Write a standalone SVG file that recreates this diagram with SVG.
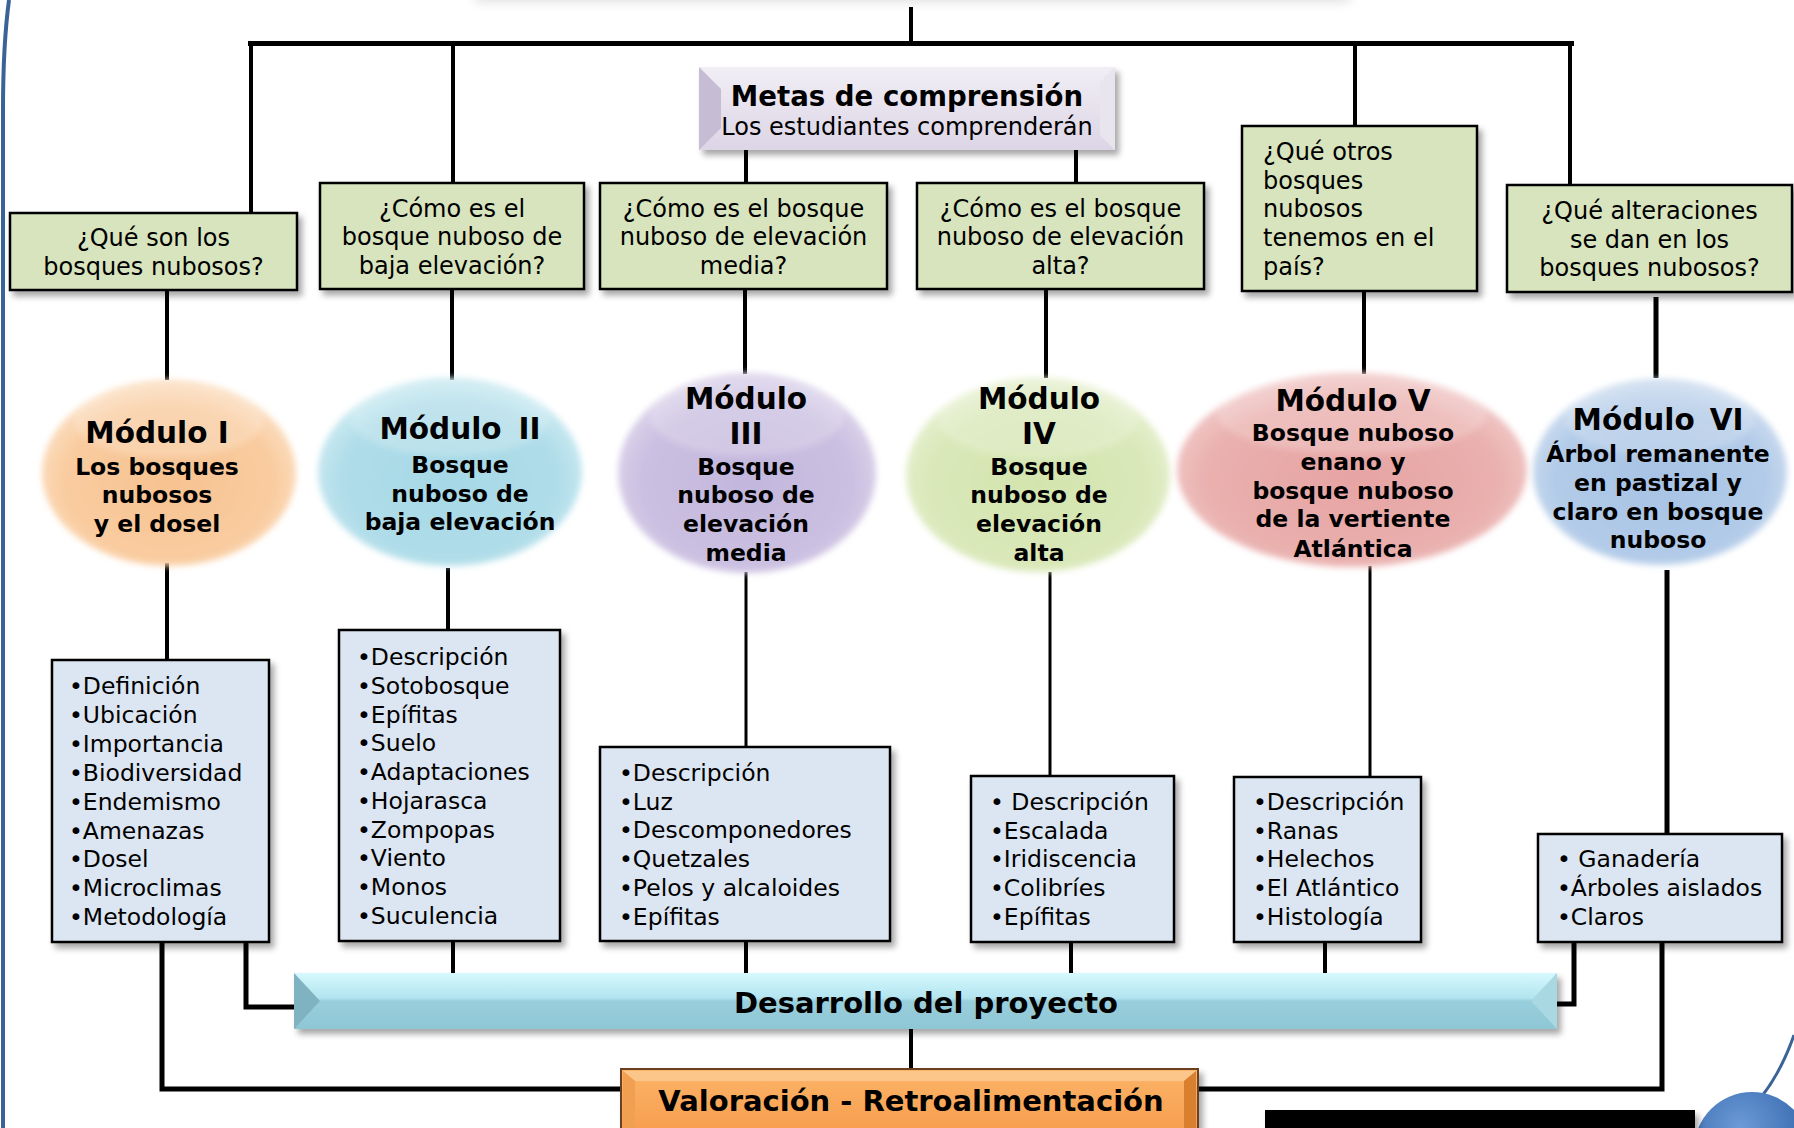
<svg xmlns="http://www.w3.org/2000/svg" width="1794" height="1128" viewBox="0 0 1794 1128">
<defs>
<style>
.t{font-family:"DejaVu Sans",Verdana,sans-serif;font-size:24px;fill:#000}
.c{text-anchor:middle}
.mt{font-weight:bold;font-size:29.5px}
.mb{font-weight:bold;font-size:23.5px}
.li{font-size:23.5px}
.bb{font-weight:bold;font-size:29px}
.mh{font-weight:bold;font-size:27.6px}
.q{fill:#d7e4bd;stroke:#000;stroke-width:2.5}
.l{fill:#dce6f2;stroke:#000;stroke-width:2.5}
.k{stroke:#000;fill:none;stroke-width:4;stroke-linecap:butt}
.k3{stroke-width:3}
.k5{stroke-width:5}
.hl{fill:#fff;opacity:0.2}
</style>
<filter id="sh" x="-10%" y="-10%" width="130%" height="130%">
<feDropShadow dx="4" dy="5" stdDeviation="3" flood-color="#000" flood-opacity="0.35"/>
</filter>
<filter id="soft" x="-10%" y="-10%" width="120%" height="120%">
<feGaussianBlur stdDeviation="3"/>
</filter>
<filter id="blur8" x="-20%" y="-200%" width="140%" height="500%">
<feGaussianBlur stdDeviation="6"/>
</filter>
<radialGradient id="g1" cx="50%" cy="55%" r="55%"><stop offset="0" stop-color="#f7c290"/><stop offset="0.75" stop-color="#f9cca0"/><stop offset="1" stop-color="#fbdfc2"/></radialGradient>
<radialGradient id="g2" cx="50%" cy="55%" r="55%"><stop offset="0" stop-color="#a6d8e6"/><stop offset="0.75" stop-color="#b0dde9"/><stop offset="1" stop-color="#cdebf2"/></radialGradient>
<radialGradient id="g3" cx="50%" cy="55%" r="55%"><stop offset="0" stop-color="#c3b6dd"/><stop offset="0.75" stop-color="#cbc0e1"/><stop offset="1" stop-color="#ddd5eb"/></radialGradient>
<radialGradient id="g4" cx="50%" cy="55%" r="55%"><stop offset="0" stop-color="#d3e4ae"/><stop offset="0.75" stop-color="#d9e8b9"/><stop offset="1" stop-color="#e7f0d0"/></radialGradient>
<radialGradient id="g5" cx="50%" cy="55%" r="55%"><stop offset="0" stop-color="#e6a4a3"/><stop offset="0.75" stop-color="#e9b0ae"/><stop offset="1" stop-color="#f1c9c8"/></radialGradient>
<radialGradient id="g6" cx="50%" cy="55%" r="55%"><stop offset="0" stop-color="#a7c2e4"/><stop offset="0.75" stop-color="#b2cbe8"/><stop offset="1" stop-color="#cddcef"/></radialGradient>
<linearGradient id="gm" x1="0" y1="0" x2="0" y2="1"><stop offset="0" stop-color="#f1eef5"/><stop offset="1" stop-color="#dcd5e6"/></linearGradient>
<linearGradient id="gb" x1="0" y1="0" x2="0" y2="1"><stop offset="0" stop-color="#d6f9fe"/><stop offset="0.45" stop-color="#b2e4ef"/><stop offset="0.5" stop-color="#99cfdc"/><stop offset="1" stop-color="#8fc6d5"/></linearGradient>
<linearGradient id="gv" x1="0" y1="0" x2="0" y2="1"><stop offset="0" stop-color="#fbb467"/><stop offset="1" stop-color="#f7994a"/></linearGradient>
<radialGradient id="gball" cx="40%" cy="30%" r="70%"><stop offset="0" stop-color="#6c9ad6"/><stop offset="1" stop-color="#2f62a8"/></radialGradient>
</defs>

<rect width="1794" height="1128" fill="#fff"/>

<!-- decorations -->
<rect x="475" y="-18" width="875" height="20" fill="#000" opacity="0.12" filter="url(#blur8)"/>
<path d="M9,0 C5,30 3,60 3,110 V1128" fill="none" stroke="#3c6397" stroke-width="4"/>
<path d="M1794,1035 C1786,1058 1776,1078 1762,1096" fill="none" stroke="#3c6397" stroke-width="3"/>
<circle cx="1752" cy="1150" r="58" fill="url(#gball)"/>
<rect x="1265" y="1110" width="430" height="25" fill="#000" filter="url(#sh)"/>

<g id="connectors">
<path class="k" d="M911,7 V43"/>
<path class="k k5" d="M248,43.5 H1574"/>
<path class="k" d="M251,43 V212"/>
<path class="k" d="M453,43 V183"/>
<path class="k" d="M1355,43 V126"/>
<path class="k" d="M1570,43 V185"/>
<path class="k" d="M746,150 V183"/>
<path class="k" d="M1076,150 V183"/>
<path class="k" d="M167,290 V380"/>
<path class="k" d="M452,289 V380"/>
<path class="k" d="M745,289 V374"/>
<path class="k" d="M1046,289 V378"/>
<path class="k" d="M1364,291 V374"/>
<path class="k k5" d="M1656,297 V378"/>
<path class="k" d="M167,563 V660"/>
<path class="k" d="M448,568 V630"/>
<path class="k k3" d="M746,572 V747"/>
<path class="k k3" d="M1050,572 V776"/>
<path class="k k3" d="M1370,566 V777"/>
<path class="k k5" d="M1667,570 V834"/>
<path class="k" d="M453,941 V973"/>
<path class="k" d="M746,941 V973"/>
<path class="k" d="M1071,942 V978"/>
<path class="k" d="M1325,942 V973"/>
<path class="k k5" d="M246,942 V1007 H294"/>
<path class="k k5" d="M162,942 V1089 H621"/>
<path class="k k5" d="M1574,942 V1004 H1557"/>
<path class="k k5" d="M1662,942 V1089 H1198"/>
<path class="k" d="M911,1029 V1069"/>
</g>

<g id="metas">
<rect x="699" y="67" width="416" height="83" fill="url(#gm)" filter="url(#sh)"/>
<polygon points="699,67 721,89 721,128 699,150" fill="#c6bcd4"/>
<polygon points="1115,67 1100,82 1100,135 1115,150" fill="#e9e5ef"/>
<text class="t c mh" x="907" y="106">Metas de comprensión</text>
<text class="t c" x="907" y="135">Los estudiantes comprenderán</text>
</g>

<g id="q1"><rect class="q" x="10" y="213" width="287" height="77" filter="url(#sh)"/>
<text class="t c"><tspan x="153.5" y="246">¿Qué son los</tspan><tspan x="153.5" y="275">bosques nubosos?</tspan></text></g>
<g id="q2"><rect class="q" x="320" y="183" width="264" height="106" filter="url(#sh)"/>
<text class="t c"><tspan x="452" y="217">¿Cómo es el</tspan><tspan x="452" y="245">bosque nuboso de</tspan><tspan x="452" y="274">baja elevación?</tspan></text></g>
<g id="q3"><rect class="q" x="600" y="183" width="287" height="106" filter="url(#sh)"/>
<text class="t c"><tspan x="743.5" y="217">¿Cómo es el bosque</tspan><tspan x="743.5" y="245">nuboso de elevación</tspan><tspan x="743.5" y="274">media?</tspan></text></g>
<g id="q4"><rect class="q" x="917" y="183" width="287" height="106" filter="url(#sh)"/>
<text class="t c"><tspan x="1060.5" y="217">¿Cómo es el bosque</tspan><tspan x="1060.5" y="245">nuboso de elevación</tspan><tspan x="1060.5" y="274">alta?</tspan></text></g>
<g id="q5"><rect class="q" x="1242" y="126" width="235" height="165" filter="url(#sh)"/>
<text class="t"><tspan x="1263" y="160">¿Qué otros</tspan><tspan x="1263" y="189">bosques</tspan><tspan x="1263" y="217">nubosos</tspan><tspan x="1263" y="246">tenemos en el</tspan><tspan x="1263" y="275">país?</tspan></text></g>
<g id="q6"><rect class="q" x="1507" y="185" width="285" height="107" filter="url(#sh)"/>
<text class="t c"><tspan x="1649.5" y="219">¿Qué alteraciones</tspan><tspan x="1649.5" y="248">se dan en los</tspan><tspan x="1649.5" y="276">bosques nubosos?</tspan></text></g>

<g id="m1"><ellipse cx="169" cy="473" rx="127" ry="93" fill="url(#g1)" filter="url(#soft)"/>
<ellipse class="hl" cx="169" cy="420" rx="95" ry="38" filter="url(#soft)"/>
<text class="t c mt" x="157" y="443">Módulo I</text>
<text class="t c mb"><tspan x="157" y="475">Los bosques</tspan><tspan x="157" y="503">nubosos</tspan><tspan x="157" y="532">y el dosel</tspan></text></g>
<g id="m2"><ellipse cx="450" cy="472" rx="132" ry="94" fill="url(#g2)" filter="url(#soft)"/>
<ellipse class="hl" cx="450" cy="418" rx="100" ry="38" filter="url(#soft)"/>
<text class="t c mt" x="460" y="439"><tspan>Módulo</tspan><tspan dx="17">II</tspan></text>
<text class="t c mb"><tspan x="460" y="473">Bosque</tspan><tspan x="460" y="502">nuboso de</tspan><tspan x="460" y="530">baja elevación</tspan></text></g>
<g id="m3"><ellipse cx="747" cy="473" rx="129" ry="100" fill="url(#g3)" filter="url(#soft)"/>
<ellipse class="hl" cx="747" cy="416" rx="97" ry="40" filter="url(#soft)"/>
<text class="t c mt"><tspan x="746" y="409">Módulo</tspan><tspan x="746" y="444">III</tspan></text>
<text class="t c mb"><tspan x="746" y="475">Bosque</tspan><tspan x="746" y="503">nuboso de</tspan><tspan x="746" y="532">elevación</tspan><tspan x="746" y="561">media</tspan></text></g>
<g id="m4"><ellipse cx="1038" cy="475" rx="132" ry="97" fill="url(#g4)" filter="url(#soft)"/>
<ellipse class="hl" cx="1038" cy="419" rx="100" ry="40" filter="url(#soft)"/>
<text class="t c mt"><tspan x="1039" y="409">Módulo</tspan><tspan x="1039" y="444">IV</tspan></text>
<text class="t c mb"><tspan x="1039" y="475">Bosque</tspan><tspan x="1039" y="503">nuboso de</tspan><tspan x="1039" y="532">elevación</tspan><tspan x="1039" y="561">alta</tspan></text></g>
<g id="m5"><ellipse cx="1352" cy="470" rx="175" ry="97" fill="url(#g5)" filter="url(#soft)"/>
<ellipse class="hl" cx="1352" cy="414" rx="135" ry="40" filter="url(#soft)"/>
<text class="t c mt" x="1353" y="411">Módulo V</text>
<text class="t c mb"><tspan x="1353" y="441">Bosque nuboso</tspan><tspan x="1353" y="470">enano y</tspan><tspan x="1353" y="499">bosque nuboso</tspan><tspan x="1353" y="527">de la vertiente</tspan><tspan x="1353" y="557">Atlántica</tspan></text></g>
<g id="m6"><ellipse cx="1660" cy="472" rx="127" ry="93" fill="url(#g6)" filter="url(#soft)"/>
<ellipse class="hl" cx="1660" cy="418" rx="95" ry="38" filter="url(#soft)"/>
<text class="t c mt" x="1658" y="430"><tspan>Módulo</tspan><tspan dx="15">VI</tspan></text>
<text class="t c mb"><tspan x="1658" y="462">Árbol remanente</tspan><tspan x="1658" y="491">en pastizal y</tspan><tspan x="1658" y="520">claro en bosque</tspan><tspan x="1658" y="548">nuboso</tspan></text></g>

<g id="l1"><rect class="l" x="52" y="660" width="217" height="282" filter="url(#sh)"/>
<text class="t li"><tspan x="69" y="694">•Definición</tspan><tspan x="69" y="723">•Ubicación</tspan><tspan x="69" y="752">•Importancia</tspan><tspan x="69" y="781">•Biodiversidad</tspan><tspan x="69" y="810">•Endemismo</tspan><tspan x="69" y="839">•Amenazas</tspan><tspan x="69" y="867">•Dosel</tspan><tspan x="69" y="896">•Microclimas</tspan><tspan x="69" y="925">•Metodología</tspan></text></g>
<g id="l2"><rect class="l" x="339" y="630" width="221" height="311" filter="url(#sh)"/>
<text class="t li"><tspan x="357" y="665">•Descripción</tspan><tspan x="357" y="694">•Sotobosque</tspan><tspan x="357" y="723">•Epífitas</tspan><tspan x="357" y="751">•Suelo</tspan><tspan x="357" y="780">•Adaptaciones</tspan><tspan x="357" y="809">•Hojarasca</tspan><tspan x="357" y="838">•Zompopas</tspan><tspan x="357" y="866">•Viento</tspan><tspan x="357" y="895">•Monos</tspan><tspan x="357" y="924">•Suculencia</tspan></text></g>
<g id="l3"><rect class="l" x="600" y="747" width="290" height="194" filter="url(#sh)"/>
<text class="t li"><tspan x="619" y="781">•Descripción</tspan><tspan x="619" y="810">•Luz</tspan><tspan x="619" y="838">•Descomponedores</tspan><tspan x="619" y="867">•Quetzales</tspan><tspan x="619" y="896">•Pelos y alcaloides</tspan><tspan x="619" y="925">•Epífitas</tspan></text></g>
<g id="l4"><rect class="l" x="971" y="776" width="203" height="166" filter="url(#sh)"/>
<text class="t li"><tspan x="990" y="810">• Descripción</tspan><tspan x="990" y="839">•Escalada</tspan><tspan x="990" y="867">•Iridiscencia</tspan><tspan x="990" y="896">•Colibríes</tspan><tspan x="990" y="925">•Epífitas</tspan></text></g>
<g id="l5"><rect class="l" x="1234" y="777" width="187" height="165" filter="url(#sh)"/>
<text class="t li"><tspan x="1253" y="810">•Descripción</tspan><tspan x="1253" y="839">•Ranas</tspan><tspan x="1253" y="867">•Helechos</tspan><tspan x="1253" y="896">•El Atlántico</tspan><tspan x="1253" y="925">•Histología</tspan></text></g>
<g id="l6"><rect class="l" x="1538" y="834" width="244" height="108" filter="url(#sh)"/>
<text class="t li"><tspan x="1557" y="867">• Ganadería</tspan><tspan x="1557" y="896">•Árboles aislados</tspan><tspan x="1557" y="925">•Claros</tspan></text></g>

<g id="desarrollo">
<rect x="294" y="973" width="1263" height="56" fill="url(#gb)" filter="url(#sh)"/>
<polygon points="294,973 320,1001 294,1029" fill="#7fb3c2"/>
<polygon points="1557,973 1531,1001 1557,1029" fill="#a9d8e3"/>
<text class="t c bb" x="926" y="1013">Desarrollo del proyecto</text>
</g>

<g id="valoracion">
<rect x="621" y="1069" width="577" height="75" fill="url(#gv)" stroke="#6b4020" stroke-width="2" filter="url(#sh)"/>
<polygon points="623,1071 1196,1071 1184,1081 635,1081" fill="#fcc58a"/>
<polygon points="623,1071 635,1081 635,1128 623,1128" fill="#f0a050"/>
<polygon points="1196,1071 1184,1081 1184,1128 1196,1128" fill="#d97f30"/>
<text class="t c bb" x="911" y="1111">Valoración - Retroalimentación</text>
</g>
</svg>
